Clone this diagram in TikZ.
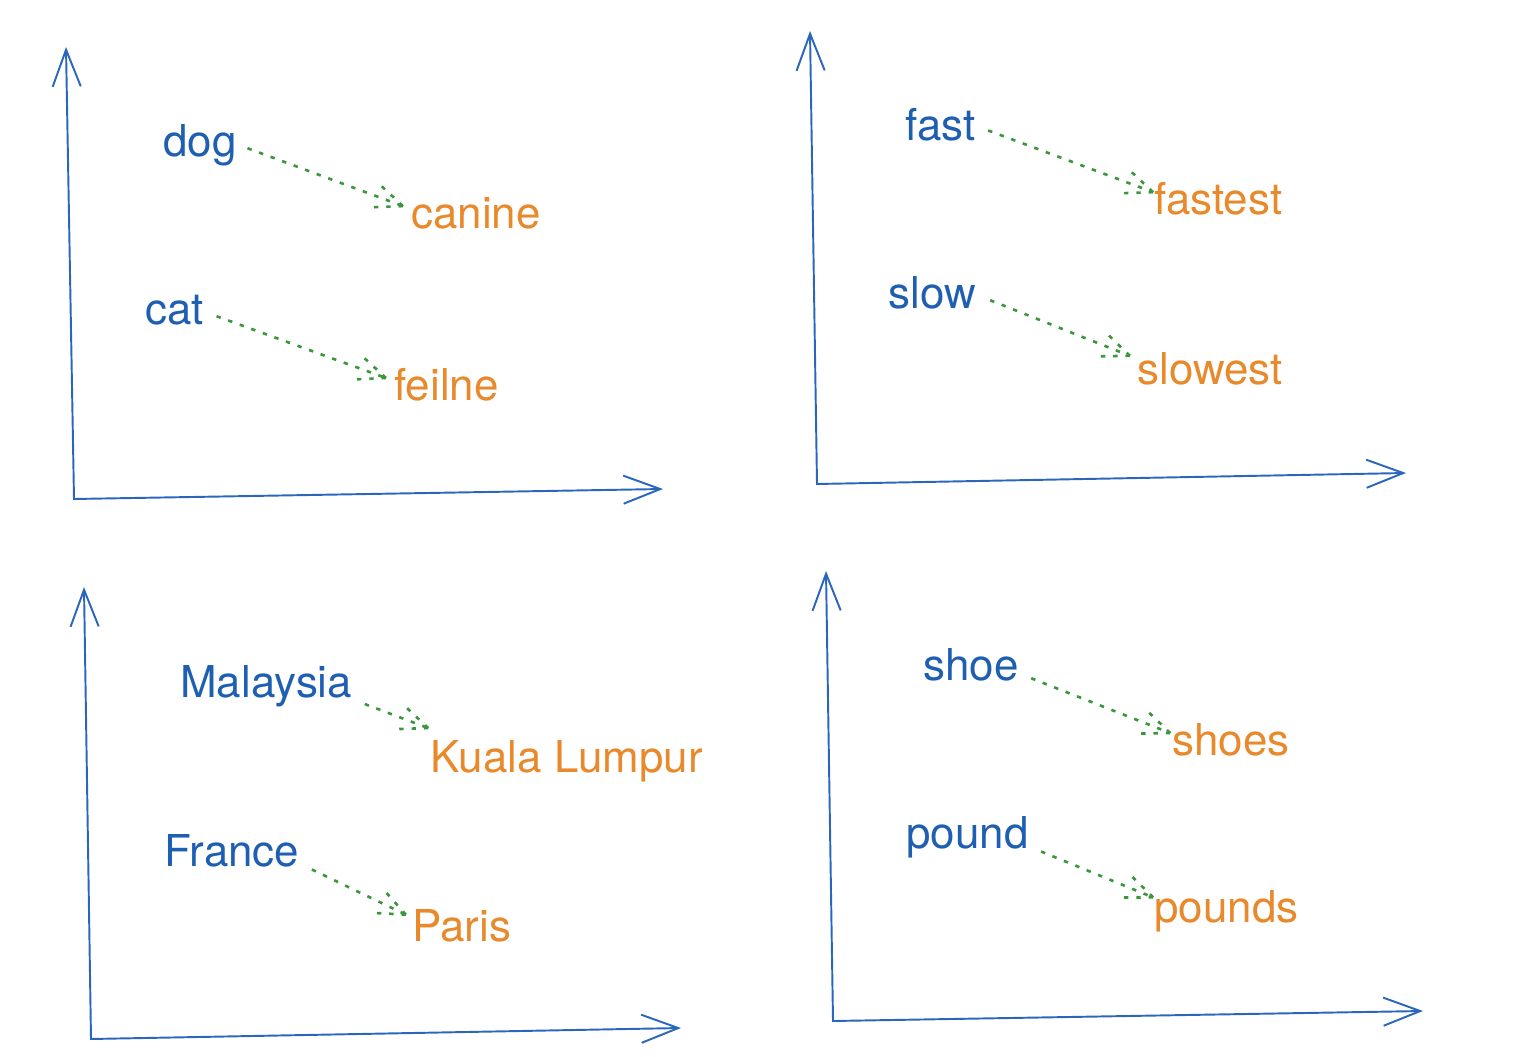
\documentclass[tikz,border=0pt]{standalone}
\usepackage{fontspec}
\setmainfont{TeX Gyre Heros}
\usepackage{tikz}
\usetikzlibrary{calc, arrows.meta, decorations.markings}
\definecolor{axisblue}{HTML}{2A66BC}
\definecolor{wordblue}{HTML}{1F5FB2}
\definecolor{wordorange}{HTML}{E8892C}
\definecolor{linkgreen}{HTML}{3C963C}

\begin{document}
\begin{tikzpicture}[x=0.02cm, y=0.02cm,
  axis/.style={draw=axisblue, line width=1.1pt, >={Straight Barb[length=21pt,width=16pt]}, <->},
  word/.style={anchor=base west, inner sep=0pt, text=wordblue, font=\fontsize{25}{29}\selectfont},
  target/.style={word, text=wordorange},
  link/.style={draw=linkgreen, line width=1.5pt, dash pattern=on 2.5pt off 4.5pt,
    postaction={decorate, decoration={markings, mark=at position 1 with {
      \draw[linkgreen, line width=1.5pt, dash pattern=on 2.5pt off 4.5pt] (0,0) -- (-18pt,7.5pt);
      \draw[linkgreen, line width=1.5pt, dash pattern=on 2.5pt off 4.5pt] (0,0) -- (-18pt,-7.5pt);}}}}]
\useasboundingbox (0,0) rectangle (1540,1056);
% Axes, one pair per panel
\coordinate (O1) at (74,557);
\coordinate (Y1) at (66,1009);
\coordinate (X1) at (663,567);
\coordinate (O2) at (817,572);
\coordinate (Y2) at (810,1025);
\coordinate (X2) at (1406,583);
\coordinate (O3) at (91,17);
\coordinate (Y3) at (84,469);
\coordinate (X3) at (681,28);
\coordinate (O4) at (833,35);
\coordinate (Y4) at (826,485);
\coordinate (X4) at (1423,45);
\foreach \i in {1,...,4}
  \draw[axis] (Y\i) -- (O\i) -- (X\i);
% Panel 1: synonyms
\node[word] (dog) at (163,899) {dog};
\node[target] (canine) at (411,827) {canine};
\node[word] (cat) at (145,731) {cat};
\node[target] (feilne) at (394,656) {feilne};
% Panel 2: superlatives
\node[word] (fast) at (905,915) {fast};
\node[target] (fastest) at (1154,841) {fastest};
\node[word] (slow) at (888,747) {slow};
\node[target] (slowest) at (1137,672) {slowest};
% Panel 3: capitals
\node[word] (malaysia) at (180,359) {Malaysia};
\node[target] (kl) at (430,284) {Kuala Lumpur};
\node[word] (france) at (164,190) {France};
\node[target] (paris) at (412,115) {Paris};
% Panel 4: plurals
\node[word] (shoe) at (923,376) {shoe};
\node[target] (shoes) at (1172,301) {shoes};
\node[word] (pound) at (906,208) {pound};
\node[target] (pounds) at (1154,134) {pounds};
% Dotted links
\draw[link] ([xshift=6pt,yshift=5pt]dog.base east) -- ([xshift=-4.5pt,yshift=13pt]canine.base west);
\draw[link] ([xshift=7pt,yshift=5pt]cat.base east) -- ([xshift=-4.5pt,yshift=12.5pt]feilne.base west);
\draw[link] ([xshift=7pt,yshift=6pt]fast.base east) -- ([xshift=-0.5pt,yshift=13pt]fastest.base west);
\draw[link] ([xshift=8pt,yshift=5pt]slow.base east) -- ([xshift=-4pt,yshift=16pt]slowest.base west);
\draw[link] ([xshift=7pt,yshift=-4pt]malaysia.base east) -- ([xshift=-1pt,yshift=25pt]kl.base west);
\draw[link] ([xshift=7pt,yshift=-2pt]france.base east) -- ([xshift=-3.5pt,yshift=15pt]paris.base west);
\draw[link] ([xshift=7pt,yshift=1pt]shoe.base east) -- ([xshift=-1pt,yshift=12.5pt]shoes.base west);
\draw[link] ([xshift=7pt,yshift=-2pt]pound.base east) -- ([xshift=-0.5pt,yshift=14pt]pounds.base west);
\end{tikzpicture}
\end{document}
